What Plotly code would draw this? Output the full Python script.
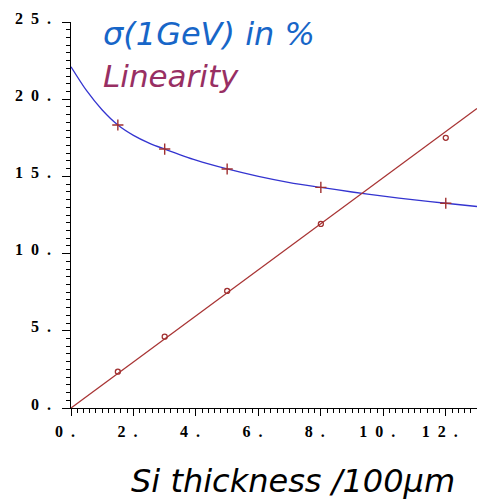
import plotly.graph_objects as go

# --- data ---
thickness = [1.5, 3, 5, 8, 12]
sigma_pts = [18.33, 16.77, 15.48, 14.29, 13.26]
linearity_pts = [2.35, 4.62, 7.58, 11.92, 17.5]

# fitted sigma curve
sigma_fit_x = [0, 0.5, 1, 1.5, 2, 2.5, 3, 4, 5, 6, 7, 8, 9, 10, 11, 12, 13]
sigma_fit_y = [22.1, 20.55, 19.3, 18.33, 17.66, 17.16, 16.77, 16.05, 15.48,
               15.0, 14.6, 14.29, 13.99, 13.72, 13.48, 13.26, 13.05]

# fitted linearity line
lin_fit_x = [0, 13]
lin_fit_y = [0, 19.4]

x_tickvals = [0, 2, 4, 6, 8, 10, 12]
y_tickvals = [0, 5, 10, 15, 20, 25]

SEP = "\u00a0\u00a0"


def spaced(v, trail=""):
    s = str(v)
    return SEP.join(list(s)) + SEP + "." + trail


x_ticktext = [spaced(v, "\u00a0" * 3) for v in x_tickvals]
y_ticktext = [spaced(v) for v in y_tickvals]

blue_curve = "#3434d0"
red_line = "#a83434"
marker_col = "#a03030"

fig = go.Figure()
fig.add_trace(go.Scatter(x=sigma_fit_x, y=sigma_fit_y, mode="lines",
                         line=dict(color=blue_curve, width=1.3, shape="spline",
                                   smoothing=0.8),
                         showlegend=False, hoverinfo="skip"))
fig.add_trace(go.Scatter(x=lin_fit_x, y=lin_fit_y, mode="lines",
                         line=dict(color=red_line, width=1.3),
                         showlegend=False, hoverinfo="skip"))
fig.add_trace(go.Scatter(x=thickness, y=sigma_pts, mode="markers",
                         marker=dict(symbol="cross-thin", size=8,
                                     line=dict(color=marker_col, width=1.4)),
                         showlegend=False))
fig.add_trace(go.Scatter(x=thickness, y=linearity_pts, mode="markers",
                         marker=dict(symbol="circle-open", size=5, color=marker_col,
                                     line=dict(color=marker_col, width=1.3)),
                         showlegend=False))

tickfont = dict(family="Liberation Serif", size=16, color="black", weight="bold")

fig.update_xaxes(range=[0, 13], showgrid=False, zeroline=False,
                 showline=True, linecolor="black", linewidth=1,
                 ticks="outside", ticklen=7, tickcolor="black", tickwidth=1,
                 tickvals=x_tickvals, ticktext=x_ticktext, tickfont=tickfont,
                 ticklabelstandoff=2,
                 minor=dict(ticks="outside", ticklen=4, dtick=0.2,
                            tickcolor="black", tickwidth=1, showgrid=False))
fig.update_yaxes(range=[0, 25], showgrid=False, zeroline=False,
                 showline=True, linecolor="black", linewidth=1,
                 ticks="outside", ticklen=8, tickcolor="black", tickwidth=1,
                 tickvals=y_tickvals, showticklabels=False,
                 minor=dict(ticks="outside", ticklen=4, dtick=0.5,
                            tickcolor="black", tickwidth=1, showgrid=False))

# y tick labels (drawn slightly above their ticks, as in the reference)
for v, t in zip(y_tickvals, y_ticktext):
    fig.add_annotation(text=t, xref="paper", yref="y", x=0, y=v,
                       xanchor="right", yanchor="middle", xshift=-18, yshift=4,
                       showarrow=False, font=tickfont)

ann_font = "DejaVu Sans"
fig.add_annotation(text="<i>σ(1GeV) in %</i>", xref="paper", yref="paper",
                   x=0.075, y=0.968, xanchor="left", yanchor="middle",
                   showarrow=False,
                   font=dict(family=ann_font, size=32, color="#1766c8"))
fig.add_annotation(text="<i>Linearity</i>", xref="paper", yref="paper",
                   x=0.075, y=0.86, xanchor="left", yanchor="middle",
                   showarrow=False,
                   font=dict(family=ann_font, size=31, color="#982f63"))
fig.add_annotation(text="<i>Si thickness /100μm</i>", xref="paper", yref="paper",
                   x=0.547, y=-0.19, xanchor="center", yanchor="middle",
                   showarrow=False,
                   font=dict(family=ann_font, size=32, color="black"))

fig.update_layout(width=477, height=500,
                  margin=dict(l=71, r=0, t=22, b=92),
                  paper_bgcolor="white", plot_bgcolor="white")

fig.write_html("out.html")
